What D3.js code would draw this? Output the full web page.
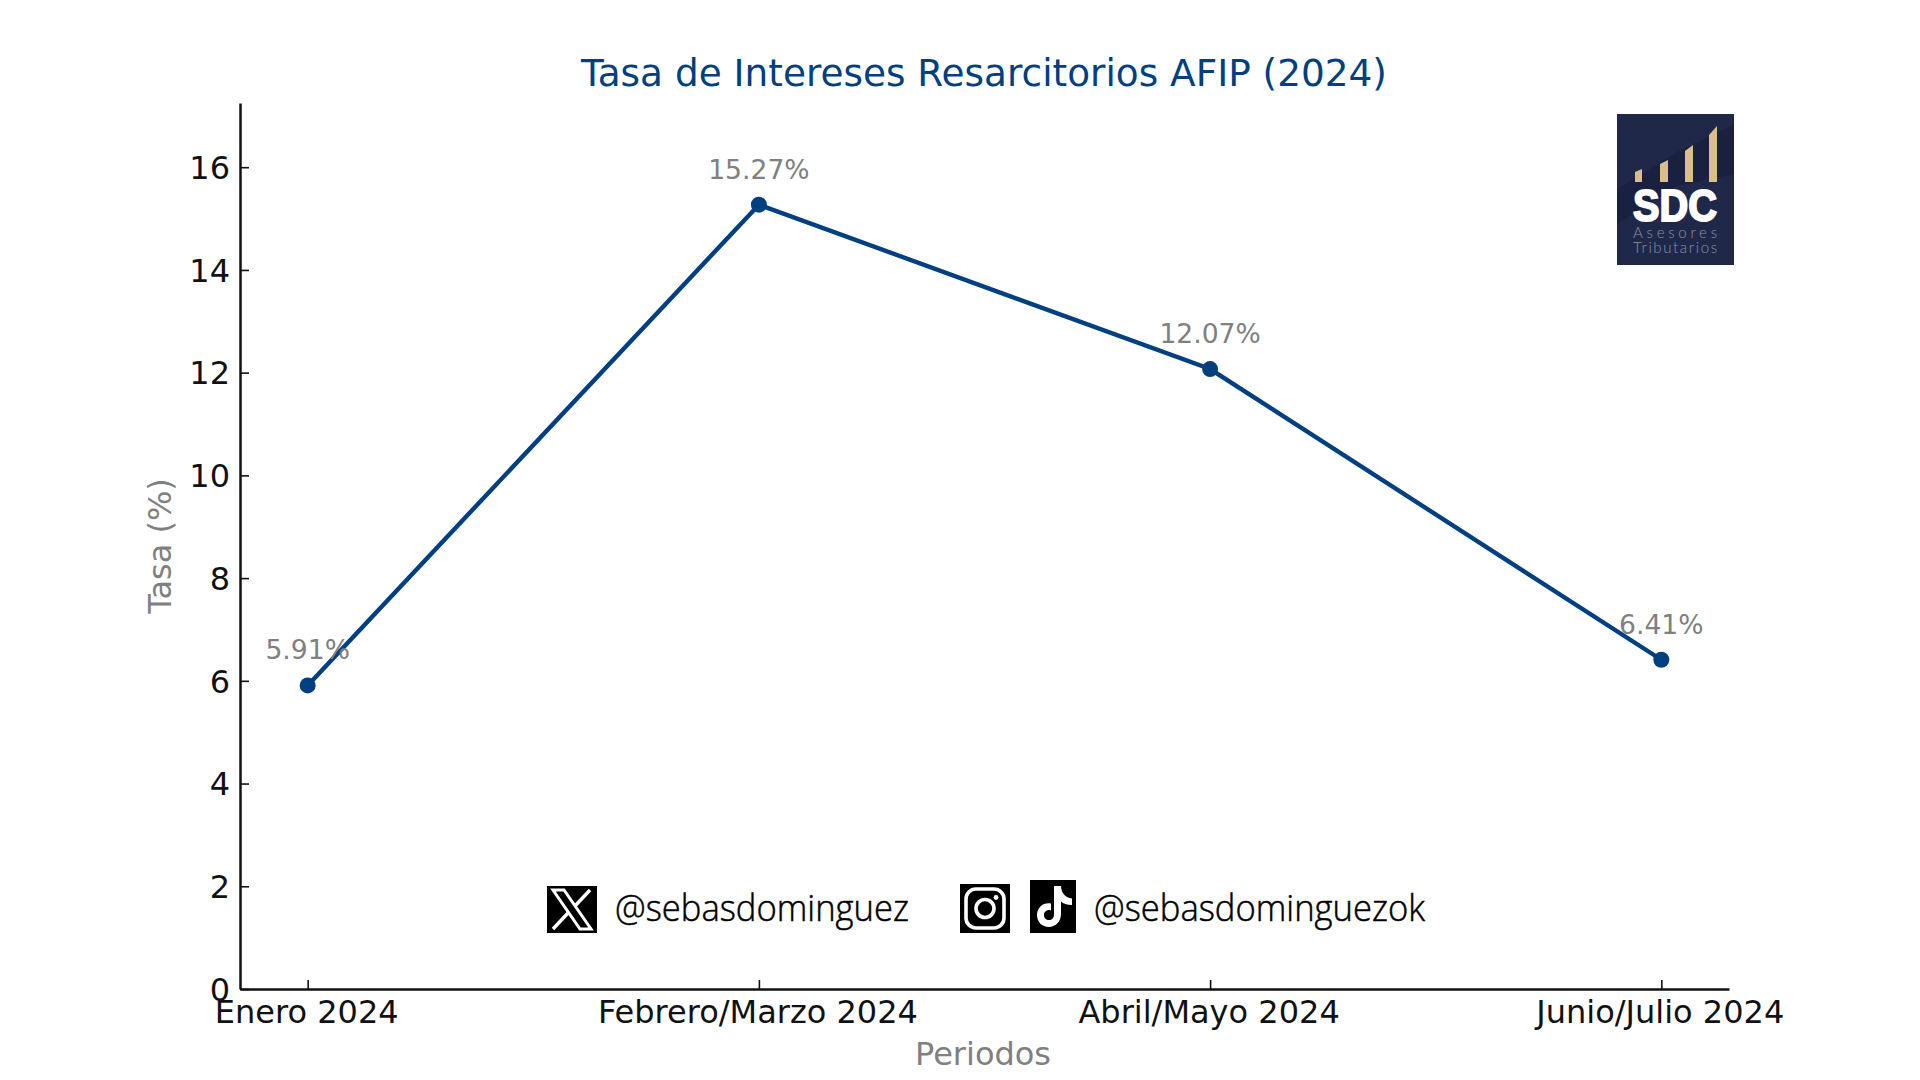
<!DOCTYPE html>
<html>
<head>
<meta charset="utf-8">
<script src="https://cdn.jsdelivr.net/npm/d3@7/dist/d3.min.js"></script>
<style>
  html, body { margin: 0; padding: 0; background: #fff; }
  svg { display: block; }
  text { font-family: "DejaVu Sans", sans-serif; }
</style>
</head>
<body>
<div id="graph"></div>
<script>
// Datos del grafico
const periodos = ["Enero 2024", "Febrero/Marzo 2024", "Abril/Mayo 2024", "Junio/Julio 2024"];
const tasas = [5.91, 15.27, 12.07, 6.41];
const yTicks = [0, 2, 4, 6, 8, 10, 12, 14, 16];
const yMax = 17.25;

const titulo = "Tasa de Intereses Resarcitorios AFIP (2024)";
const ejeX = "Periodos";
const ejeY = "Tasa (%)";
const usuarioX = "@sebasdominguez";
const usuarioOtras = "@sebasdominguezok";

const azul = "#003f80";
const gris = "#808080";
const negro = "#111111";

const margin = {top: 103, right: 191, bottom: 91, left: 240};
const width = 1920 - margin.left - margin.right,
height = 1080 - margin.top - margin.bottom;

const svg = d3.select("#graph")
    .append("svg")
    .attr("width", 1920)
    .attr("height", 1080);

const g = svg.append("g")
    .attr("transform", "translate(" + margin.left + "," + margin.top + ")");

const x = d3.scalePoint()
    .domain(periodos)
    .range([0, width])
    .padding(0.15);

const y = d3.scaleLinear()
    .domain([0, yMax])
    .range([height, 0]);

// Ejes (marcas hacia adentro, solo izquierda y abajo)
const axisY = g.append("g")
    .call(d3.axisLeft(y).tickValues(yTicks).tickSizeInner(-9).tickSizeOuter(0).tickPadding(10));

const axisX = g.append("g")
    .attr("transform", "translate(0," + height + ")")
    .call(d3.axisBottom(x).tickSizeInner(-9).tickSizeOuter(0).tickPadding(11));

[axisX, axisY].forEach(a => {
    a.selectAll("path.domain").attr("stroke", negro).attr("stroke-width", 2.5);
    a.selectAll(".tick line").attr("stroke", negro).attr("stroke-width", 1.6);
    a.selectAll(".tick text")
        .attr("fill", negro)
        .style("font-size", "32px")
        .style("font-family", "'DejaVu Sans', sans-serif");
});
axisY.selectAll(".tick text").attr("dy", "0.35em");
axisX.selectAll(".tick text").attr("dx", -1.5);

// Linea y puntos
const line = d3.line()
    .x((d, i) => x(periodos[i]))
    .y(d => y(d));

g.append("path")
    .datum(tasas)
    .attr("d", line)
    .attr("fill", "none")
    .attr("stroke", azul)
    .attr("stroke-width", 4.4);

g.selectAll("circle.punto")
    .data(tasas)
    .join("circle")
    .attr("class", "punto")
    .attr("cx", (d, i) => x(periodos[i]))
    .attr("cy", d => y(d))
    .attr("r", 8)
    .attr("fill", azul);

g.selectAll("text.valor")
    .data(tasas)
    .join("text")
    .attr("class", "valor")
    .attr("x", (d, i) => x(periodos[i]))
    .attr("y", d => y(d) - 26)
    .attr("text-anchor", "middle")
    .attr("fill", gris)
    .style("font-size", "26.6px")
    .text(d => d + "%");

// Titulos
svg.append("text")
    .attr("x", 984)
    .attr("y", 86)
    .attr("text-anchor", "middle")
    .attr("fill", azul)
    .style("font-size", "37.4px")
    .text(titulo);

svg.append("text")
    .attr("x", 983)
    .attr("y", 1065)
    .attr("text-anchor", "middle")
    .attr("fill", gris)
    .style("font-size", "32px")
    .text(ejeX);

svg.append("text")
    .attr("transform", "translate(171,546) rotate(-90)")
    .attr("text-anchor", "middle")
    .attr("fill", gris)
    .style("font-size", "32px")
    .text(ejeY);

// Redes sociales
function handle(txt, px, len) {
    svg.append("text")
        .attr("x", px)
        .attr("y", 921)
        .attr("textLength", len)
        .attr("lengthAdjust", "spacingAndGlyphs")
        .attr("fill", "#000")
        .attr("stroke", "#000")
        .attr("stroke-width", 0.5)
        .style("font-family", "'Open Sans', sans-serif")
        .style("font-weight", 300)
        .style("font-size", "37px")
        .text(txt);
}
handle(usuarioX, 615, 294);
handle(usuarioOtras, 1094, 331);

// icono X
const iconX = svg.append("g").attr("transform", "translate(547,886)");
iconX.append("rect").attr("width", 50).attr("height", 47).attr("fill", "#000");
iconX.append("path")
    .attr("d", "M6,4H17L44,43H33Z")
    .attr("fill", "none").attr("stroke", "#fff").attr("stroke-width", 3);
iconX.append("path")
    .attr("d", "M43,4L28,20M21,27L6,43")
    .attr("fill", "none").attr("stroke", "#fff").attr("stroke-width", 3.4);

// icono instagram
const iconIg = svg.append("g").attr("transform", "translate(960,884)");
iconIg.append("rect").attr("width", 50).attr("height", 49).attr("fill", "#000");
iconIg.append("rect")
    .attr("x", 6).attr("y", 5).attr("width", 38).attr("height", 39).attr("rx", 10)
    .attr("fill", "none").attr("stroke", "#fff").attr("stroke-width", 3.6);
iconIg.append("circle")
    .attr("cx", 25).attr("cy", 24.5).attr("r", 9)
    .attr("fill", "none").attr("stroke", "#fff").attr("stroke-width", 3.6);
iconIg.append("circle").attr("cx", 36).attr("cy", 13.5).attr("r", 2.4).attr("fill", "#fff");

// icono tiktok
const iconTk = svg.append("g").attr("transform", "translate(1030,880)");
iconTk.append("rect").attr("width", 46).attr("height", 53).attr("fill", "#000");
iconTk.append("path")
    .attr("d", "M24,6H31C31,13 36,18 42,18.5V25C37,25 33,23.5 31,21.5V34C31,42 25,47 19,47C12,47 7,42 7,35C7,27 14,22 21,23.5V30.5C17,29 14,32 14,35C14,38 16,40 19,40C22,40 24,38 24,34Z")
    .attr("fill", "#fff");

// Logo SDC
const logo = svg.append("g").attr("transform", "translate(1617,114)");
logo.append("rect").attr("width", 117).attr("height", 151).attr("fill", "#20284a");
logo.append("path").attr("d", "M0,75L60,38L117,10V60L60,72L0,110Z").attr("fill", "#1a2140");
logo.selectAll("path.barra")
    .data(["M18,58L25,55V68H18Z", "M43,50L51,46V68H43Z", "M68,37L76,31V68H68Z", "M92,21L100,12V68H92Z"])
    .join("path")
    .attr("class", "barra")
    .attr("d", d => d)
    .attr("fill", "#d9bd8b");
logo.append("text")
    .attr("x", 58).attr("y", 107)
    .attr("text-anchor", "middle")
    .attr("fill", "#fff")
    .attr("textLength", 84)
    .attr("lengthAdjust", "spacingAndGlyphs")
    .style("font-family", "'Liberation Sans', sans-serif")
    .style("font-weight", 700)
    .style("font-size", "45px")
    .style("stroke", "#fff")
    .style("stroke-width", 2)
    .text("SDC");
logo.append("text")
    .attr("x", 58).attr("y", 124)
    .attr("text-anchor", "middle")
    .attr("fill", "#8d90a0")
    .attr("textLength", 84)
    .style("font-family", "Lato, sans-serif")
    .style("font-weight", 300)
    .style("font-size", "15px")
    .text("Asesores");
logo.append("text")
    .attr("x", 58).attr("y", 139)
    .attr("text-anchor", "middle")
    .attr("fill", "#8d90a0")
    .attr("textLength", 84)
    .style("font-family", "Lato, sans-serif")
    .style("font-weight", 300)
    .style("font-size", "15px")
    .text("Tributarios");
</script>
</body>
</html>
